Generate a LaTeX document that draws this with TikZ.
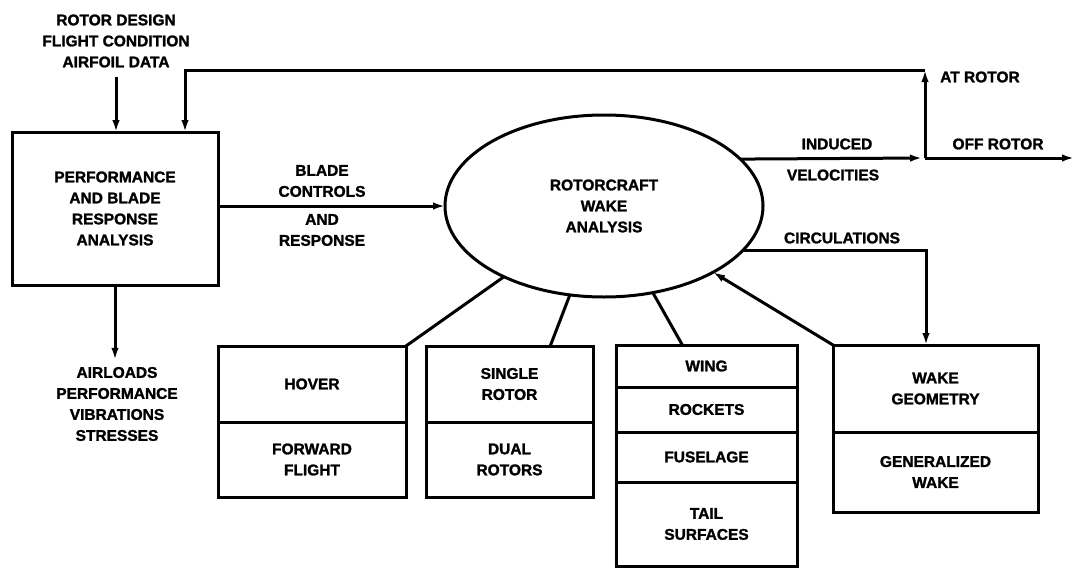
\documentclass[tikz,border=0pt]{standalone}
\usepackage{fontspec}
\setmainfont{Liberation Sans}[BoldFeatures={FakeBold=1.5}]
\usetikzlibrary{arrows.meta,shapes.geometric}
\begin{document}
\begin{tikzpicture}[x=1pt,y=-1pt,
  txt/.style={font=\fontsize{15.5}{21}\selectfont\bfseries},
  lbl/.style={txt, align=center, inner sep=0pt},
  cell/.style={txt, draw, line width=3pt, anchor=north west, inner sep=0pt, outer sep=0pt, align=center},
  conn/.style={line width=3pt},
  arr/.style={conn, -{Latex[length=12pt,width=7.5pt]}},
]
\useasboundingbox (0,0) rectangle (1076,570);

% main nodes
\node[cell, minimum width=206pt, minimum height=153pt] (perf) at (12,132) {PERFORMANCE\\AND BLADE\\RESPONSE\\ANALYSIS};
\node[txt, draw, ellipse, line width=3pt, minimum width=318pt, minimum height=182pt, inner sep=0pt, outer sep=0pt, align=center] (ell) at (604,206) {ROTORCRAFT\\WAKE\\ANALYSIS};

% bottom cells
\node[cell, minimum width=188pt, minimum height=76pt] (hover1) at (218,346) {HOVER};
\node[cell, minimum width=188pt, minimum height=75pt] (hover2) at (218,422) {FORWARD\\FLIGHT};
\node[cell, minimum width=167pt, minimum height=76pt] (single1) at (426,346) {SINGLE\\ROTOR};
\node[cell, minimum width=167pt, minimum height=75pt] (single2) at (426,422) {DUAL\\ROTORS};
\node[cell, minimum width=181pt, minimum height=42pt] (wing) at (616,345) {WING};
\node[cell, minimum width=181pt, minimum height=45pt] (rockets) at (616,387) {ROCKETS};
\node[cell, minimum width=181pt, minimum height=50pt] (fuselage) at (616,432) {FUSELAGE};
\node[cell, minimum width=181pt, minimum height=84pt] (tail) at (616,482) {TAIL\\SURFACES};
\node[cell, minimum width=205pt, minimum height=87pt] (wake1) at (833,345) {WAKE\\GEOMETRY};
\node[cell, minimum width=205pt, minimum height=80pt] (wake2) at (833,432) {GENERALIZED\\WAKE};

% labels
\node[lbl] (in) at (116,41) {ROTOR DESIGN\\FLIGHT CONDITION\\AIRFOIL DATA};
\node[lbl] (outl) at (117,404) {AIRLOADS\\PERFORMANCE\\VIBRATIONS\\STRESSES};
\node[lbl] (bc) at (322,181) {BLADE\\CONTROLS};
\node[lbl] (ar) at (322,230) {AND\\RESPONSE};
\node[lbl] (ind) at (837,144) {INDUCED};
\node[lbl] (vel) at (833,175) {VELOCITIES};
\node[lbl] (off) at (998,144) {OFF ROTOR};
\node[lbl, anchor=west] (at) at (940,77) {AT ROTOR};
\node[lbl] (circ) at (842,238) {CIRCULATIONS};

% coordinates
\coordinate (j) at (925,158);
\coordinate (tr) at (925,70);
\coordinate (tl) at (185,70);
\coordinate (out) at (1074,158);
\coordinate (c2) at (926,252);

% connectors
\draw[arr] ([yshift=-9pt]in.south) -- (perf.north -| in.south);
\draw[arr] (perf.south) -- ([yshift=7pt]outl.north -| perf.south);
\draw[arr] (ell.west -| perf.east) -- (ell.west);
\draw[arr, shorten >=3pt] (ell.19.6) -- (j);
\draw[arr] (j) -- (out);
\draw[arr] (j) -- (tr);
\draw[arr, line join=miter] (tr) -- (tl) -- (perf.north -| tl);
\draw[arr, line join=miter] (ell.-18) -| (wake1.north -| c2);

\draw[conn] (hover1.north east) -- (ell);
\draw[conn] (single1.43) -- (ell);
\draw[conn] (wing.139) -- (ell);
\draw[arr] (wake1.north west) -- (ell);
\end{tikzpicture}
\end{document}
